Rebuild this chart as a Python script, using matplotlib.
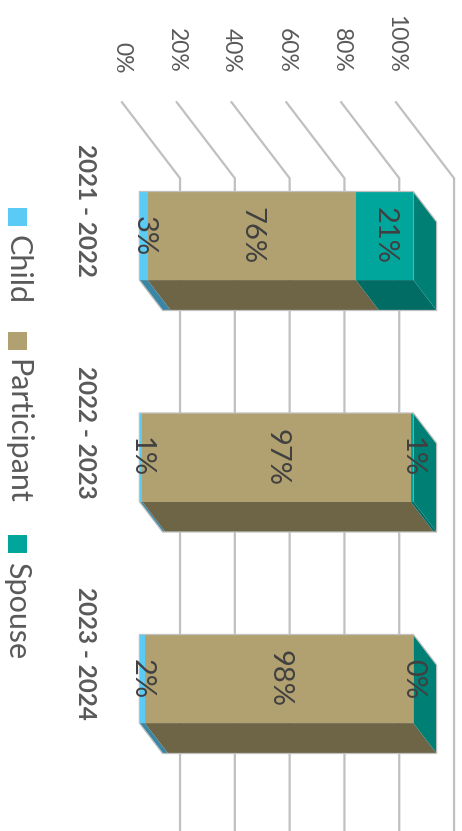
import matplotlib.pyplot as plt
from matplotlib.patches import Polygon, Rectangle

plt.rcParams['font.family'] = ['Lato', 'DejaVu Sans']

periods = ["2021 - 2022", "2022 - 2023", "2023 - 2024"]
series = ["Child", "Participant", "Spouse"]
child = [3, 1, 2]
participant = [76, 97, 98]
spouse = [21, 1, 0]
ticks = [0, 20, 40, 60, 80, 100]

front_colors = ["#5BCBF5", "#B1A170", "#00A69C"]
side_colors = ["#3A87A5", "#6E6446", "#006C64"]
cap_color = "#007F74"
grid_color = "#C0C0C0"
text_dark = "#404040"
text_grey = "#595959"

# oblique projection: depth 0 is the front of the side wall, 1 the back wall
DX, DY = 21.2, 0.343
WALL = -0.5
HALF = 0.2
D0, D1 = 0.3, 0.7


def proj(v, c, d):
    return (v + d * DX, c + d * DY)


fig = plt.figure(figsize=(4.62, 8.31), dpi=100)
ax = fig.add_axes([0, 0, 1, 1])
ax.set_xlim(-44.5, 124.1)
ax.set_ylim(2.79, -0.9616)
ax.axis('off')

# gridlines across the side wall and down the back wall
for t in ticks:
    pts = [proj(t, WALL, 0), proj(t, WALL, 1), proj(t, len(periods) - 0.5, 1)]
    ax.plot([p[0] for p in pts], [p[1] for p in pts], color=grid_color,
            lw=1.6, solid_joinstyle='miter', zorder=1)
    x0, _ = proj(t, WALL, 0)
    ax.text(x0, -0.632, f"{t}%", rotation=270, ha='center', va='bottom',
            fontsize=16.5, color=text_grey)

values = [child, participant, spouse]
for i, period in enumerate(periods):
    vals = [s[i] for s in values]
    total = sum(vals)
    left = 0
    for k, v in enumerate(vals):
        w = v / total * 100
        right = left + w
        # bottom (depth) face
        side = [proj(left, i + HALF, D0), proj(right, i + HALF, D0),
                proj(right, i + HALF, D1), proj(left, i + HALF, D1)]
        ax.add_patch(Polygon(side, closed=True, fc=side_colors[k], ec='none', zorder=3))
        # front face
        front = [proj(left, i - HALF, D0), proj(right, i - HALF, D0),
                 proj(right, i + HALF, D0), proj(left, i + HALF, D0)]
        ax.add_patch(Polygon(front, closed=True, fc=front_colors[k], ec='none', zorder=4))
        cx, cy = proj((left + right) / 2, i, D0)
        ax.text(cx, cy, f"{v}%", rotation=270, ha='center', va='center',
                fontsize=21, color=text_dark, zorder=6)
        left = right
    # end cap of the stack
    cap = [proj(100, i - HALF, D0), proj(100, i + HALF, D0),
           proj(100, i + HALF, D1), proj(100, i - HALF, D1)]
    ax.add_patch(Polygon(cap, closed=True, fc=cap_color, ec='none', zorder=3))
    outline = [proj(0, i - HALF, D0), proj(100, i - HALF, D0),
               proj(100, i - HALF, D1), proj(100, i + HALF, D1),
               proj(0, i + HALF, D1), proj(0, i + HALF, D0)]
    ax.add_patch(Polygon(outline, closed=True, fill=False, ec=grid_color,
                         lw=0.9, zorder=5))
    ax.text(-9.1, i - 0.01, period, rotation=270, ha='right', va='center',
            fontsize=17.5, fontweight='bold', color=text_grey)

# legend, stacked downwards on the left
W, H = 462, 831
legend_y = [208, 332, 535]
for name, col, y in zip(series, front_colors, legend_y):
    fig.patches.append(Rectangle((8 / W, 1 - (y + 18) / H), 19 / W, 18 / H,
                                 transform=fig.transFigure, fc=col, ec='none'))
    fig.text(17.5 / W, 1 - (y + 27) / H, name, rotation=270, ha='center', va='top',
             fontsize=22, color=text_grey)

fig.savefig("out.png", dpi=100)
